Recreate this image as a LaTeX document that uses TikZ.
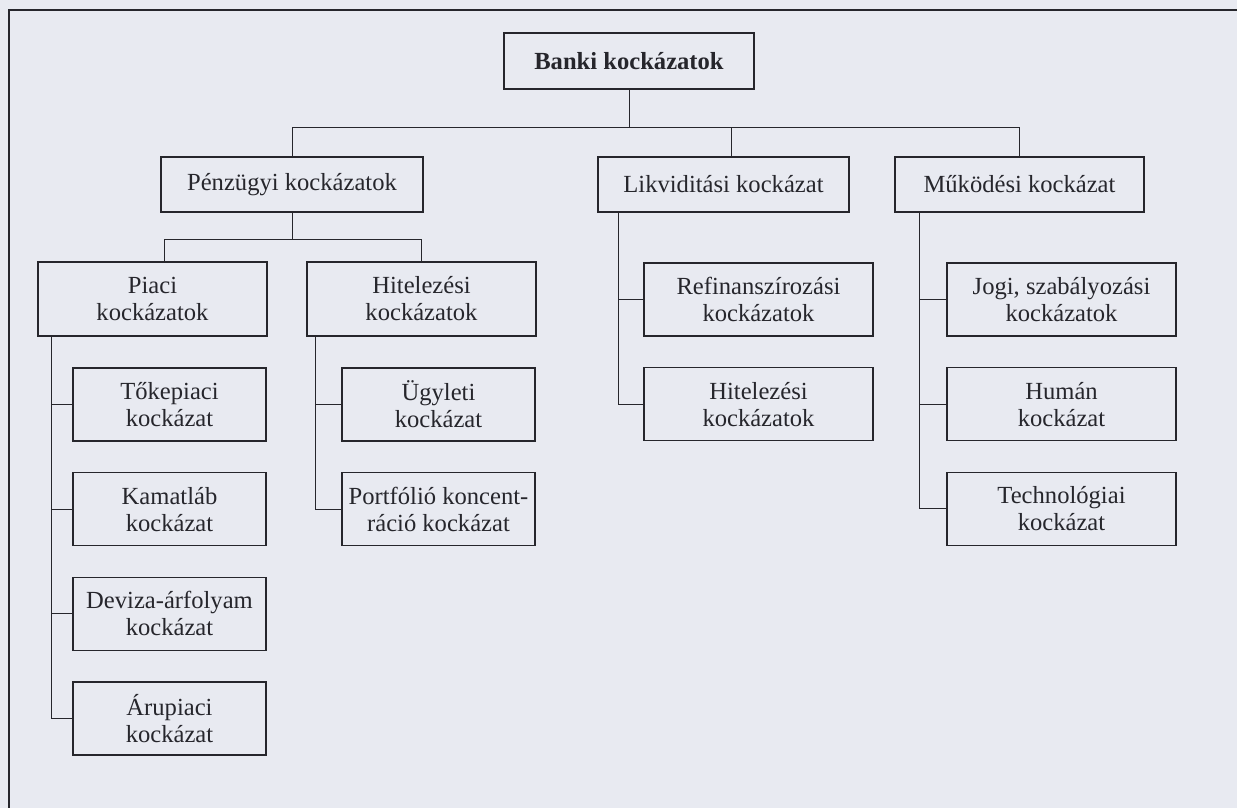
\documentclass[tikz,border=0pt]{standalone}
\usepackage{fontspec}
\setmainfont{Liberation Serif}
\usetikzlibrary{positioning}
\definecolor{paper}{RGB}{232,234,241}
\definecolor{ink}{RGB}{38,38,44}

\begin{document}
\begin{tikzpicture}[
    node distance=15.2pt,
    riskbox/.style={rectangle, draw=ink, line width=0.65pt, align=center, inner sep=2pt, text=ink, font=\fontsize{12.3}{13.5}\selectfont},
    groupbox/.style={riskbox, minimum height=27.5pt},
    subbox/.style={riskbox, minimum width=114.5pt, minimum height=37pt},
    smallleaf/.style={riskbox, minimum width=96.5pt, minimum height=36.5pt},
    wideleaf/.style={riskbox, minimum width=114.5pt, minimum height=36.5pt},
    wire/.style={draw=ink, line width=0.5pt}
]
    % paper and frame
    \fill [paper] (0,0) rectangle (618.5pt,-404pt);
    \useasboundingbox (0,0) rectangle (618.5pt,-404pt);
    \draw [ink, line width=1pt] (618.5pt,-5pt) -- (4.5pt,-5pt) -- (4.5pt,-404pt);

    \node [riskbox, minimum width=125pt, minimum height=28pt, font=\fontsize{12.3}{13.5}\selectfont\bfseries] (banki) at (314.5pt,-30.5pt) {Banki kockázatok};

    % Main groups
    \node [groupbox, minimum width=131pt] (penz) at (146pt,-92.25pt) {Pénzügyi kockázatok};
    \node [groupbox, minimum width=125.5pt] (likv) at (361.75pt,-92.25pt) {Likviditási kockázat};
    \node [groupbox, minimum width=124.5pt] (muk) at (509.75pt,-92.25pt) {Működési kockázat};

    \node [subbox] (piaci) at (76.25pt,-149.5pt) {Piaci\\kockázatok};
    \node [subbox] (hitel) at (210.75pt,-149.5pt) {Hitelezési\\kockázatok};

    % Leaves
    \node [smallleaf, below right=15.3pt and 17.5pt of piaci.south west] (toke) {Tőkepiaci\\kockázat};
    \node [smallleaf, below=of toke] (kamat) {Kamatláb\\kockázat};
    \node [smallleaf, below=of kamat] (deviza) {Deviza-árfolyam\\kockázat};
    \node [smallleaf, below=of deviza] (aru) {Árupiaci\\kockázat};

    \node [smallleaf, below right=15.3pt and 17.5pt of hitel.south west] (ugylet) {Ügyleti\\kockázat};
    \node [smallleaf, below=of ugylet] (portf) {Portfólió koncent-\\ráció kockázat};

    \node [wideleaf, below right=24.8pt and 23pt of likv.south west] (refin) {Refinanszírozási\\kockázatok};
    \node [wideleaf, below=of refin] (hitelb) {Hitelezési\\kockázatok};

    \node [wideleaf, below right=24.8pt and 26pt of muk.south west] (jogi) {Jogi, szabályozási\\kockázatok};
    \node [wideleaf, below=of jogi] (human) {Humán\\kockázat};
    \node [wideleaf, below=of human] (techn) {Technológiai\\kockázat};

    % Connectors
    \draw [wire] (banki.south) -- ++(0,-19pt) coordinate (busa);
    \draw [wire] (penz.north) |- (busa) -| (muk.north);
    \draw [wire] ([xshift=4pt]likv.north) -- ([xshift=4pt]likv.north |- busa);

    \draw [wire] (penz.south) -- ++(0,-13.5pt) coordinate (busb);
    \draw [wire] ([xshift=6pt]piaci.north) |- (busb) -| (hitel.north);

    \coordinate (piacitrunk) at ([xshift=7pt]piaci.south west);
    \coordinate (hiteltrunk) at ([xshift=4.5pt]hitel.south west);
    \coordinate (likvtrunk) at ([xshift=10.5pt]likv.south west);
    \coordinate (muktrunk) at ([xshift=12.5pt]muk.south west);

    \draw [wire] (piacitrunk) |- (aru.west);
    \foreach \n in {toke,kamat,deviza}
        \draw [wire] (\n.west) -- (\n.west -| piacitrunk);
    \draw [wire] (hiteltrunk) |- (portf.west);
    \draw [wire] (ugylet.west) -- (ugylet.west -| hiteltrunk);
    \draw [wire] (likvtrunk) |- (hitelb.west);
    \draw [wire] (refin.west) -- (refin.west -| likvtrunk);
    \draw [wire] (muktrunk) |- (techn.west);
    \foreach \n in {jogi,human}
        \draw [wire] (\n.west) -- (\n.west -| muktrunk);

\end{tikzpicture}
\end{document}
